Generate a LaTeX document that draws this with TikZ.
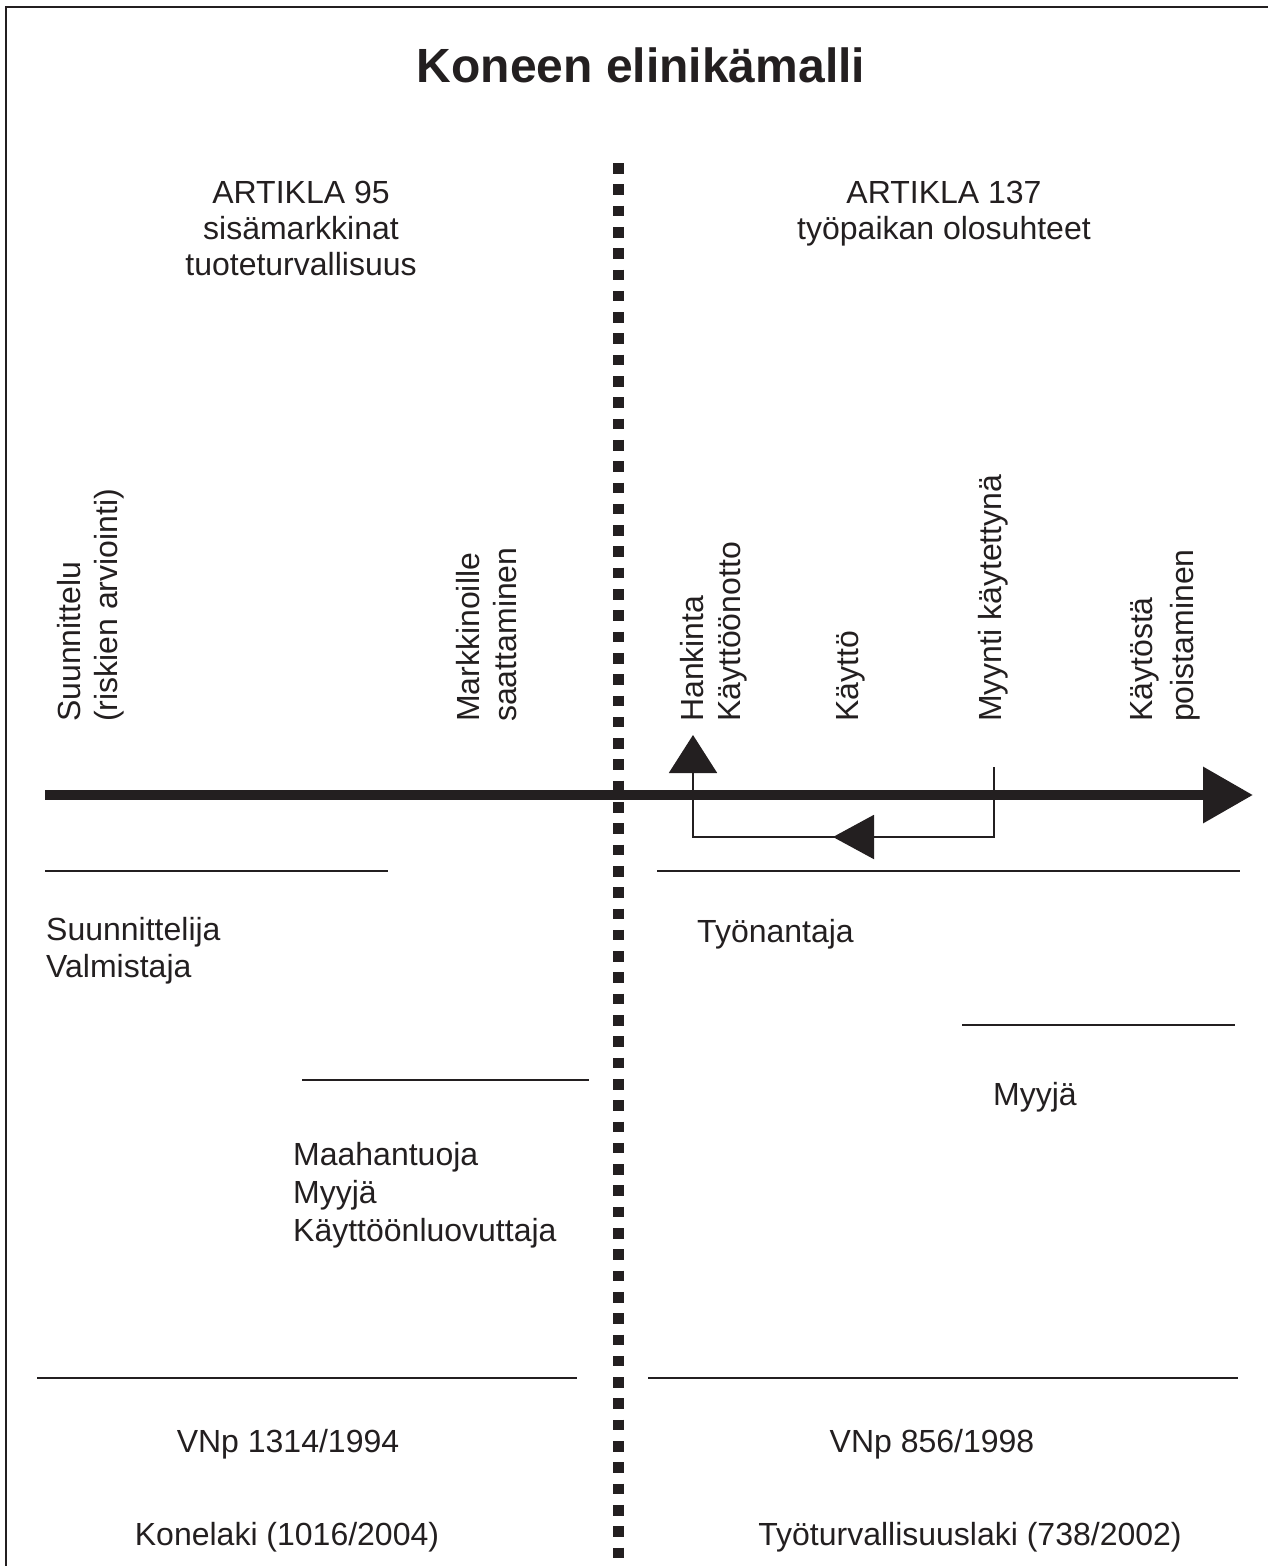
\documentclass[tikz,border=0pt]{standalone}
\usepackage{fontspec}
\setmainfont{Liberation Sans}
\usetikzlibrary{arrows.meta}
\definecolor{ink}{HTML}{231F20}
\begin{document}
\begin{tikzpicture}[x=1pt,y=-1pt,
  txt/.style={inner sep=0pt,text=ink,font=\fontsize{32}{37}\selectfont},
  vtxt/.style={txt,rotate=90,anchor=base west},
  ltxt/.style={txt,anchor=base west},
  ctxt/.style={txt,anchor=base},
  rule/.style={draw=ink,line width=2pt},
]
\useasboundingbox (0,0) rectangle (1267,1566);
% frame
\coordinate (fb) at (6,1570);
\coordinate (ftl) at (6,7);
\coordinate (fr) at (1270,7);
\draw[draw=ink,line width=2.4pt] (fb) -- (ftl) -- (fr);

% title
\node[inner sep=0pt,text=ink,anchor=base,font=\fontsize{48}{56}\selectfont\bfseries] (title) at (641,82) {Koneen elinikämalli};

% articles
\node[ctxt] (a95a) at (301,203) {ARTIKLA 95};
\node[ctxt] (a95b) at (301,239) {sisämarkkinat};
\node[ctxt] (a95c) at (301,275) {tuoteturvallisuus};
\node[ctxt] (a137a) at (944,203) {ARTIKLA 137};
\node[ctxt] (a137b) at (944,239) {työpaikan olosuhteet};

% dotted divider
\coordinate (dtop) at (618.5,163);
\coordinate (dbot) at (618.5,1570);
\draw[draw=ink,line width=11pt,dash pattern=on 10.6pt off 10.7pt] (dtop) -- (dbot);

% vertical phase labels
\node[vtxt] (s1) at (80,722) {Suunnittelu};
\node[vtxt] (s2) at (117,722) {(riskien arviointi)};
\node[vtxt] (m1) at (479,722) {Markkinoille};
\node[vtxt] (m2) at (516,722) {saattaminen};
\node[vtxt] (h1) at (703,722) {Hankinta};
\node[vtxt] (h2) at (740,722) {Käyttöönotto};
\node[vtxt] (k1) at (858,722) {Käyttö};
\node[vtxt] (my1) at (1001,722) {Myynti käytettynä};
\node[vtxt] (p1) at (1152,722) {Käytöstä};
\node[vtxt] (p2) at (1193,722) {poistaminen};

% main time axis
\coordinate (ax0) at (45,795);
\coordinate (ax1) at (1253,795);
\draw[draw=ink,line width=10pt,-{Triangle[length=50pt,width=54pt]}] (ax0) -- (ax1);

% resale loop
\coordinate (rtop) at (994,767);
\coordinate (rbot) at (994,837);
\coordinate (lbot) at (693,837);
\coordinate (utip) at (693,735);
\coordinate (mtip) at (833,837);
\draw[draw=ink,line width=2pt,-{Triangle[length=38pt,width=48pt]}] (rtop) -- (rbot) -- (lbot) -- (utip);
\draw[draw=ink,line width=2pt,-{Triangle[length=41pt,width=44pt]}] (rbot) -- (mtip);

% rules
\coordinate (l1a) at (45,871);   \coordinate (l1b) at (388,871);
\coordinate (r1a) at (657,871);  \coordinate (r1b) at (1240,871);
\coordinate (r2a) at (962,1025); \coordinate (r2b) at (1235,1025);
\coordinate (l2a) at (302,1080); \coordinate (l2b) at (589,1080);
\coordinate (l3a) at (37,1378);  \coordinate (l3b) at (577,1378);
\coordinate (r3a) at (648,1378); \coordinate (r3b) at (1238,1378);
\draw[rule] (l1a) -- (l1b);
\draw[rule] (r1a) -- (r1b);
\draw[rule] (r2a) -- (r2b);
\draw[rule] (l2a) -- (l2b);
\draw[rule] (l3a) -- (l3b);
\draw[rule] (r3a) -- (r3b);

% actors
\node[ltxt] (su) at (46,940) {Suunnittelija};
\node[ltxt] (va) at (46,977) {Valmistaja};
\node[ltxt] (ty) at (697,942) {Työnantaja};
\node[ltxt] (myr) at (993,1105) {Myyjä};
\node[ltxt] (ma) at (293,1165) {Maahantuoja};
\node[ltxt] (myl) at (293,1203) {Myyjä};
\node[ltxt] (kl) at (293,1241) {Käyttöönluovuttaja};

% legislation
\node[ctxt] (vnl) at (288,1452) {VNp 1314/1994};
\node[ctxt] (vnr) at (932,1452) {VNp 856/1998};
\node[ctxt] (kon) at (287,1545) {Konelaki (1016/2004)};
\node[ctxt] (tyl) at (970,1545) {Työturvallisuuslaki (738/2002)};
\end{tikzpicture}
\end{document}
